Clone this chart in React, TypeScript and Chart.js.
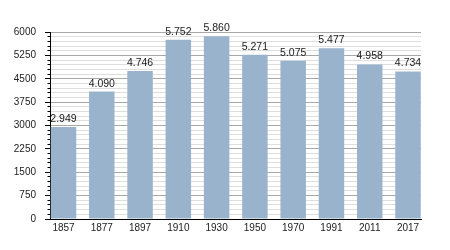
import React, { useEffect, useRef } from 'react';
import { Chart, registerables } from 'chart.js';

Chart.register(...registerables);

const years = ['1857', '1877', '1897', '1910', '1930', '1950', '1970', '1991', '2011', '2017'];
const population = [2949, 4090, 4746, 5752, 5860, 5271, 5075, 5477, 4958, 4734];
const yMin = 0;
const yMax = 6000;
const majorStep = 750;
const minorStep = 150;

const FONT = '"Liberation Sans", Arial, Helvetica, sans-serif';

const fmt = (v: number) => String(v).replace(/\B(?=(\d{3})+(?!\d))/g, '.');

const valueLabels = {
  id: 'valueLabels',
  afterDatasetsDraw(chart: any) {
    const ctx = chart.ctx;
    const meta = chart.getDatasetMeta(0);
    ctx.save();
    ctx.font = '10.5px ' + FONT;
    ctx.fillStyle = '#222';
    ctx.textAlign = 'center';
    ctx.textBaseline = 'alphabetic';
    meta.data.forEach((el: any, i: number) => {
      ctx.fillText(fmt(population[i]), el.x, el.y - 5);
    });
    ctx.restore();
  },
};

const minorTicks = {
  id: 'minorTicks',
  afterDraw(chart: any) {
    const s = chart.scales.y;
    const ctx = chart.ctx;
    ctx.save();
    ctx.strokeStyle = '#000';
    ctx.lineWidth = 1;
    s.ticks.forEach((t: any) => {
      if (t.value % majorStep !== 0) {
        const y = Math.round(s.getPixelForValue(t.value) - 0.5) + 0.5;
        ctx.beginPath();
        ctx.moveTo(s.right - 2.5, y);
        ctx.lineTo(s.right, y);
        ctx.stroke();
      }
    });
    ctx.restore();
  },
};

export default function App() {
  const ref = useRef<HTMLCanvasElement | null>(null);

  useEffect(() => {
    if (!ref.current) return;
    Chart.defaults.font.family = FONT;
    const chart = new Chart(ref.current, {
      type: 'bar',
      data: {
        datasets: [
          {
            data: population.map((v, i) => ({ x: i, y: v })),
            backgroundColor: '#9ab3cd',
            borderWidth: 0,
            barPercentage: 0.666,
            categoryPercentage: 1,
          },
        ],
      },
      options: {
        responsive: false,
        animation: false,
        layout: { padding: { left: 0, top: 32, right: 29, bottom: 0 } },
        plugins: {
          legend: { display: false },
          tooltip: { enabled: false },
        },
        scales: {
          x: {
            type: 'linear',
            offset: false,
            min: -0.3527,
            max: 9.3393,
            afterBuildTicks: (s: any) => {
              s.ticks = years.map((_, i) => ({ value: i }));
            },
            afterFit: (s: any) => {
              s.height = 31;
            },
            ticks: {
              autoSkip: false,
              maxRotation: 0,
              padding: 3,
              color: '#222',
              font: { size: 10, family: FONT },
              callback: (v: any) => years[v] ?? '',
            },
            grid: { display: false, drawTicks: false },
            border: { display: true, color: '#000', width: 1 },
          },
          y: {
            min: yMin,
            max: yMax,
            afterFit: (s: any) => {
              s.width = 50;
            },
            ticks: {
              stepSize: minorStep,
              autoSkip: false,
              padding: 9,
              color: '#222',
              font: { size: 10, family: FONT },
              callback: (v: any) => (v % majorStep === 0 ? String(v) : ''),
            },
            grid: {
              color: (c: any) => (c.tick && c.tick.value % majorStep === 0 ? '#a8a8a8' : '#dedede'),
              tickColor: (c: any) => (c.tick && c.tick.value % majorStep === 0 ? '#000' : 'rgba(0,0,0,0)'),
              tickLength: 5,
            },
            border: { display: true, color: '#000', width: 1 },
          },
        },
      },
      plugins: [valueLabels, minorTicks],
    } as any);
    return () => chart.destroy();
  }, []);

  return (
    <div style={{ position: 'absolute', left: 0, top: 0, width: 450, height: 250, background: '#fff' }}>
      <canvas ref={ref} width={450} height={250} style={{ display: 'block' }} />
    </div>
  );
}
